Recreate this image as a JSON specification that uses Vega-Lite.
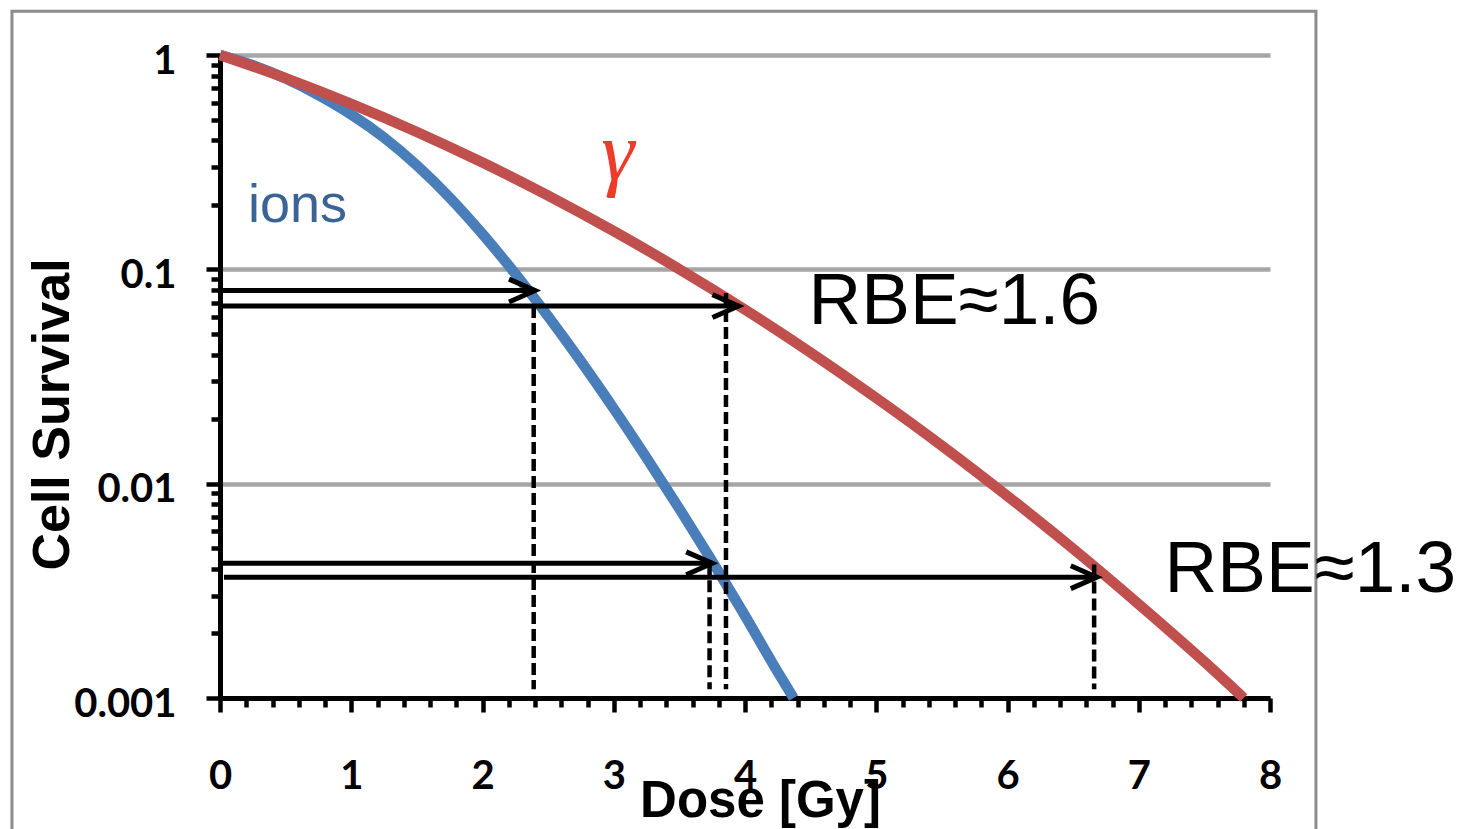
{
  "$schema": "https://vega.github.io/schema/vega-lite/v6.json",
  "width": 1050,
  "height": 643,
  "autosize": {"type": "none"},
  "padding": {"left": 220, "top": 55, "right": 192, "bottom": 131},
  "background": "white",
  "config": {"view": {"stroke": null}, "font": "Liberation Sans"},
  "datasets": {
    "frame": [{"x0": -1.585, "x1": 8.35, "y0": 1.6, "y1": 0.0002}],
    "ions": [
      {"dose": 0, "survival": 1},
      {"dose": 0.25, "survival": 0.8964},
      {"dose": 0.5, "survival": 0.7762},
      {"dose": 0.75, "survival": 0.6501},
      {"dose": 1.0, "survival": 0.5278},
      {"dose": 1.25, "survival": 0.4116},
      {"dose": 1.5, "survival": 0.3055},
      {"dose": 1.75, "survival": 0.2163},
      {"dose": 2.0, "survival": 0.1462},
      {"dose": 2.25, "survival": 0.0953},
      {"dose": 2.5, "survival": 0.0603},
      {"dose": 2.75, "survival": 0.0372},
      {"dose": 3.0, "survival": 0.0224},
      {"dose": 3.25, "survival": 0.0132},
      {"dose": 3.5, "survival": 0.00764},
      {"dose": 3.75, "survival": 0.00434},
      {"dose": 4.0, "survival": 0.00242},
      {"dose": 4.25, "survival": 0.00132},
      {"dose": 4.37, "survival": 0.001}
    ],
    "gamma": [
      {"dose": 0, "survival": 1},
      {"dose": 0.5, "survival": 0.7798},
      {"dose": 1.0, "survival": 0.5916},
      {"dose": 1.5, "survival": 0.4375},
      {"dose": 2.0, "survival": 0.3148},
      {"dose": 2.5, "survival": 0.2208},
      {"dose": 3.0, "survival": 0.1507},
      {"dose": 3.5, "survival": 0.1002},
      {"dose": 4.0, "survival": 0.0649},
      {"dose": 4.5, "survival": 0.0409},
      {"dose": 5.0, "survival": 0.0251},
      {"dose": 5.5, "survival": 0.01503},
      {"dose": 6.0, "survival": 0.00875},
      {"dose": 6.5, "survival": 0.00497},
      {"dose": 7.0, "survival": 0.00274},
      {"dose": 7.5, "survival": 0.001476},
      {"dose": 7.8, "survival": 0.001}
    ],
    "arrows": [
      {"from": 0, "to": 2.4, "level": 0.0796},
      {"from": 0, "to": 3.95, "level": 0.0674},
      {"from": 0, "to": 3.75, "level": 0.00425},
      {"from": 0.03, "to": 6.68, "level": 0.00366}
    ],
    "guides": [
      {"dose": 2.39, "top": 0.0674, "bottom": 0.0011},
      {"dose": 3.855, "top": 0.0775, "bottom": 0.0011},
      {"dose": 3.73, "top": 0.00425, "bottom": 0.0011},
      {"dose": 6.66, "top": 0.0042, "bottom": 0.0011}
    ],
    "gammaLabel": [{"dose": 3.03, "survival": 0.26, "text": "γ"}],
    "ionsLabel": [{"dose": 0.213, "survival": 0.1668, "text": "ions"}],
    "rbeLabels": [
      {"dose": 4.484, "survival": 0.0558, "text": "RBE≈1.6"},
      {"dose": 7.196, "survival": 0.00312, "text": "RBE≈1.3"}
    ]
  },
  "layer": [
    {
      "data": {"name": "frame"},
      "mark": {"type": "rect", "filled": false, "stroke": "#8c8c8c", "strokeWidth": 3, "clip": false},
      "encoding": {
        "x": {"field": "x0", "type": "quantitative", "scale": {"domain": [0, 8], "nice": false, "zero": false}},
        "x2": {"field": "x1"},
        "y": {"field": "y0", "type": "quantitative", "scale": {"type": "log", "domain": [0.001, 1], "nice": false}},
        "y2": {"field": "y1"}
      }
    },
    {
      "data": {"name": "ions"},
      "mark": {"type": "line", "color": "#4a7ebb", "strokeWidth": 10.5, "interpolate": "monotone"},
      "encoding": {
        "x": {
          "field": "dose", "type": "quantitative",
          "axis": {
            "values": [0,0.2,0.4,0.6,0.8,1,1.2,1.4,1.6,1.8,2,2.2,2.4,2.6,2.8,3,3.2,3.4,3.6,3.8,4,4.2,4.4,4.6,4.8,5,5.2,5.4,5.6,5.8,6,6.2,6.4,6.6,6.8,7,7.2,7.4,7.6,7.8,8],
            "tickCount": 200,
            "grid": false,
            "domainColor": "black", "domainWidth": 5,
            "tickColor": "black", "tickWidth": 4.5,
            "tickSize": {"condition": {"test": "abs(datum.value - round(datum.value)) < 0.000001", "value": 14}, "value": 9},
            "labelExpr": "abs(datum.value - round(datum.value)) < 0.000001 ? format(datum.value, 'd') : ''",
            "labelFont": "Lato", "labelFontWeight": "bold", "labelFontSize": 40, "labelColor": "black",
            "labelPadding": 44, "labelOverlap": false, "labelFlush": false, "labelBound": false,
            "title": "Dose [Gy]",
            "titleFont": "Liberation Sans", "titleFontWeight": "bold", "titleFontSize": 51, "titleColor": "black",
            "titleX": 540, "titleY": 118, "titleAlign": "center", "titleBaseline": "alphabetic", "titleAnchor": null
          }
        },
        "y": {
          "field": "survival", "type": "quantitative",
          "axis": {
            "values": [0.001,0.002,0.003,0.004,0.005,0.006,0.007,0.008,0.009,0.01,0.02,0.03,0.04,0.05,0.06,0.07,0.08,0.09,0.1,0.2,0.3,0.4,0.5,0.6,0.7,0.8,0.9,1],
            "tickCount": 200,
            "grid": true,
            "gridColor": "#a6a6a6", "gridWidth": 4.5,
            "gridOpacity": {"condition": {"test": "abs(log(datum.value)/LN10 - round(log(datum.value)/LN10)) < 0.000001", "value": 1}, "value": 0},
            "domainColor": "black", "domainWidth": 5,
            "tickColor": "black", "tickWidth": 4.5,
            "tickSize": {"condition": {"test": "abs(log(datum.value)/LN10 - round(log(datum.value)/LN10)) < 0.000001", "value": 14}, "value": 9},
            "labelExpr": "abs(log(datum.value)/LN10 - round(log(datum.value)/LN10)) < 0.000001 ? format(datum.value, '~g') : ''",
            "labelFont": "Lato", "labelFontWeight": "bold", "labelFontSize": 40, "labelColor": "black",
            "labelPadding": 30, "labelOffset": 6, "labelOverlap": false, "labelBound": false, "labelFlush": false,
            "title": "Cell Survival",
            "titleFont": "Liberation Sans", "titleFontWeight": "bold", "titleFontSize": 52, "titleColor": "black",
            "titleX": -152, "titleY": 359, "titleAngle": -90, "titleAlign": "center", "titleBaseline": "alphabetic", "titleAnchor": null
          }
        }
      }
    },
    {
      "data": {"name": "gamma"},
      "mark": {"type": "line", "color": "#c0504d", "strokeWidth": 10.5, "interpolate": "monotone"},
      "encoding": {
        "x": {"field": "dose", "type": "quantitative"},
        "y": {"field": "survival", "type": "quantitative"}
      }
    },
    {
      "data": {"name": "arrows"},
      "mark": {"type": "rule", "color": "black", "strokeWidth": 5},
      "encoding": {
        "x": {"field": "from", "type": "quantitative"},
        "x2": {"field": "to"},
        "y": {"field": "level", "type": "quantitative"}
      }
    },
    {
      "data": {"name": "arrows"},
      "mark": {"type": "point", "shape": "M-1,-0.44L0,0L-1,0.44", "size": 2700, "filled": false, "color": "black", "strokeWidth": 5, "opacity": 1, "strokeJoin": "miter"},
      "encoding": {
        "x": {"field": "to", "type": "quantitative"},
        "y": {"field": "level", "type": "quantitative"}
      }
    },
    {
      "data": {"name": "guides"},
      "mark": {"type": "rule", "color": "black", "strokeWidth": 4.5, "strokeDash": [12, 5]},
      "encoding": {
        "x": {"field": "dose", "type": "quantitative"},
        "y": {"field": "top", "type": "quantitative"},
        "y2": {"field": "bottom"}
      }
    },
    {
      "data": {"name": "gammaLabel"},
      "mark": {"type": "text", "font": "Liberation Serif", "fontStyle": "italic", "fontSize": 84, "color": "#ee3b2b", "align": "center", "baseline": "alphabetic"},
      "encoding": {
        "x": {"field": "dose", "type": "quantitative"},
        "y": {"field": "survival", "type": "quantitative"},
        "text": {"field": "text"}
      }
    },
    {
      "data": {"name": "ionsLabel"},
      "mark": {"type": "text", "font": "Liberation Sans", "fontSize": 54, "color": "#3b6496", "align": "left", "baseline": "alphabetic"},
      "encoding": {
        "x": {"field": "dose", "type": "quantitative"},
        "y": {"field": "survival", "type": "quantitative"},
        "text": {"field": "text"}
      }
    },
    {
      "data": {"name": "rbeLabels"},
      "mark": {"type": "text", "font": "Liberation Sans", "fontSize": 73, "color": "black", "align": "left", "baseline": "alphabetic"},
      "encoding": {
        "x": {"field": "dose", "type": "quantitative"},
        "y": {"field": "survival", "type": "quantitative"},
        "text": {"field": "text"}
      }
    }
  ]
}
